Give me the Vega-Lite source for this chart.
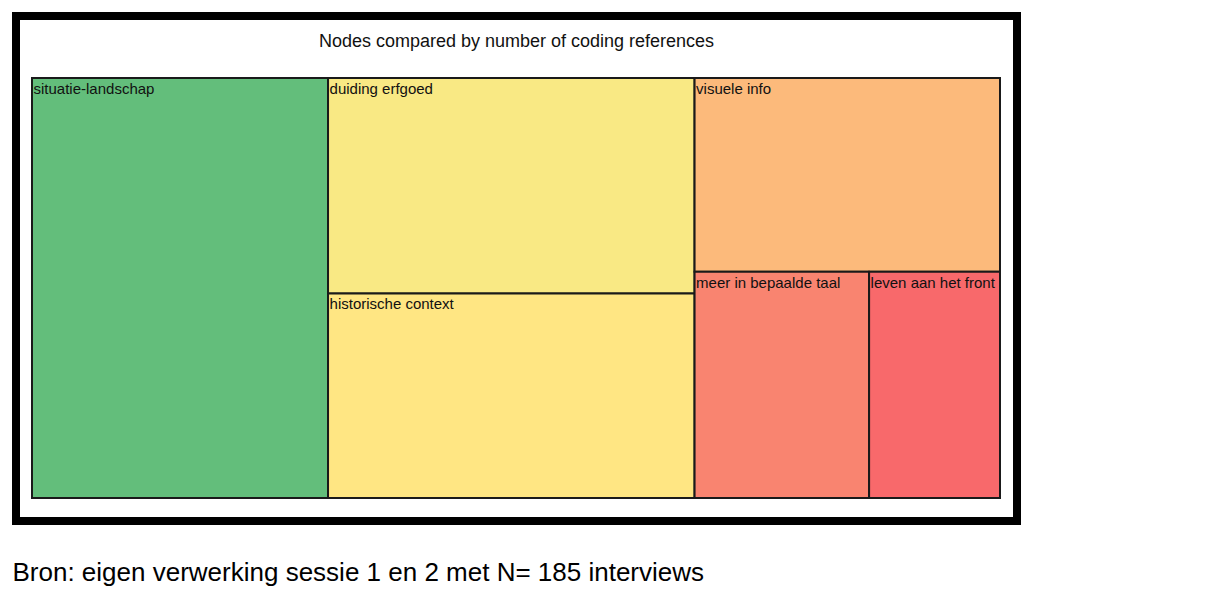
{
  "$schema": "https://vega.github.io/schema/vega-lite/v6.json",
  "width": 1001,
  "height": 505,
  "autosize": {"type": "none"},
  "padding": {"left": 16, "top": 16, "right": 211, "bottom": 81},
  "background": "white",
  "config": {
    "font": "Liberation Sans",
    "view": {"stroke": "#000000", "strokeWidth": 8, "fill": "white"}
  },
  "title": {
    "text": "Nodes compared by number of coding references",
    "font": "Liberation Sans",
    "fontSize": 18,
    "fontWeight": "normal",
    "color": "#111111",
    "anchor": "middle",
    "baseline": "alphabetic",
    "offset": 0,
    "dy": 49
  },
  "data": {
    "values": [
      {"name": "situatie-landschap", "value": 63, "col": 1, "row": 1},
      {"name": "duiding erfgoed", "value": 40, "col": 2, "row": 1},
      {"name": "historische context", "value": 38, "col": 2, "row": 2},
      {"name": "visuele info", "value": 30, "col": 3, "row": 1},
      {"name": "meer in bepaalde taal", "value": 20, "col": 3, "row": 2},
      {"name": "leven aan het front", "value": 15, "col": 3, "row": 2}
    ]
  },
  "transform": [
    {"stack": "value", "groupby": [], "sort": [{"field": "col"}, {"field": "row"}, {"field": "value", "order": "descending"}], "as": ["s0", "s1"]},
    {"joinaggregate": [{"op": "min", "field": "s0", "as": "cx0"}, {"op": "max", "field": "s1", "as": "cx1"}], "groupby": ["col"]},
    {"stack": "value", "groupby": ["col"], "sort": [{"field": "row"}, {"field": "value", "order": "descending"}], "offset": "normalize", "as": ["t0", "t1"]},
    {"joinaggregate": [{"op": "min", "field": "t0", "as": "y0"}, {"op": "max", "field": "t1", "as": "y1"}], "groupby": ["col", "row"]},
    {"stack": "value", "groupby": ["col", "row"], "sort": [{"field": "value", "order": "descending"}], "offset": "normalize", "as": ["u0", "u1"]},
    {"calculate": "datum.cx0 + datum.u0 * (datum.cx1 - datum.cx0)", "as": "x0"},
    {"calculate": "datum.cx0 + datum.u1 * (datum.cx1 - datum.cx0)", "as": "x1"}
  ],
  "encoding": {
    "x": {
      "field": "x0",
      "type": "quantitative",
      "scale": {"range": [16, 984], "zero": true, "nice": false},
      "axis": {
        "orient": "bottom",
        "domain": false,
        "ticks": false,
        "labels": false,
        "grid": false,
        "title": "Bron: eigen verwerking sessie 1 en 2 met N= 185 interviews",
        "titleFont": "Liberation Sans",
        "titleFontSize": 26,
        "titleFontWeight": "normal",
        "titleColor": "#000000",
        "titleAlign": "left",
        "titleAnchor": "start",
        "titleBaseline": "alphabetic",
        "titleX": -4,
        "titleY": 59
      }
    },
    "y": {
      "field": "y0",
      "type": "quantitative",
      "scale": {"range": [62, 482], "zero": true, "nice": false},
      "axis": null
    }
  },
  "layer": [
    {
      "mark": {"type": "rect", "stroke": "#1a1a1a", "strokeWidth": 2},
      "encoding": {
        "x2": {"field": "x1"},
        "y2": {"field": "y1"},
        "color": {
          "field": "value",
          "type": "quantitative",
          "scale": {"domainMid": 39, "range": ["#F8696B", "#FFEB84", "#63BE7B"], "interpolate": "rgb", "zero": false},
          "legend": null
        }
      }
    },
    {
      "mark": {"type": "text", "align": "left", "baseline": "alphabetic", "dx": 1.5, "dy": 16, "fontSize": 15, "font": "Liberation Sans", "color": "#111111"},
      "encoding": {
        "text": {"field": "name"}
      }
    }
  ]
}
